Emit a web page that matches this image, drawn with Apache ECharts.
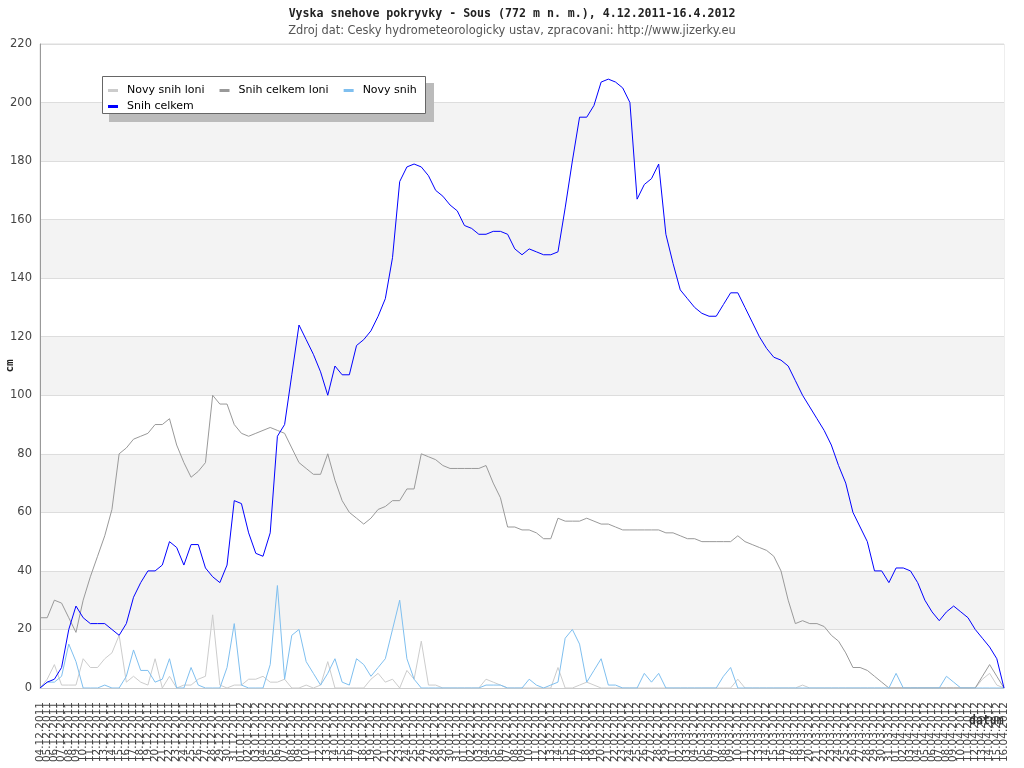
<!DOCTYPE html>
<html>
<head>
<meta charset="utf-8">
<script src="https://cdn.jsdelivr.net/npm/echarts@6/dist/echarts.min.js"></script>
<style>html,body{margin:0;padding:0;background:#fff;}#c{width:1024px;height:768px;}</style>
</head>
<body>
<div id="c"></div>
<script>
var categories = [
"04.12.2011","05.12.2011","06.12.2011","07.12.2011","08.12.2011","09.12.2011","10.12.2011","11.12.2011","12.12.2011","13.12.2011",
"14.12.2011","15.12.2011","16.12.2011","17.12.2011","18.12.2011","19.12.2011","20.12.2011","21.12.2011","22.12.2011","23.12.2011",
"24.12.2011","25.12.2011","26.12.2011","27.12.2011","28.12.2011","29.12.2011","30.12.2011","31.12.2011",
"01.01.2012","02.01.2012","03.01.2012","04.01.2012","05.01.2012","06.01.2012","07.01.2012","08.01.2012","09.01.2012","10.01.2012",
"11.01.2012","12.01.2012","13.01.2012","14.01.2012","15.01.2012","16.01.2012","17.01.2012","18.01.2012","19.01.2012","20.01.2012",
"21.01.2012","22.01.2012","23.01.2012","24.01.2012","25.01.2012","26.01.2012","27.01.2012","28.01.2012","29.01.2012","30.01.2012","31.01.2012",
"01.02.2012","02.02.2012","03.02.2012","04.02.2012","05.02.2012","06.02.2012","07.02.2012","08.02.2012","09.02.2012","10.02.2012",
"11.02.2012","12.02.2012","13.02.2012","14.02.2012","15.02.2012","16.02.2012","17.02.2012","18.02.2012","19.02.2012","20.02.2012",
"21.02.2012","22.02.2012","23.02.2012","24.02.2012","25.02.2012","26.02.2012","27.02.2012","28.02.2012","29.02.2012",
"01.03.2012","02.03.2012","03.03.2012","04.03.2012","05.03.2012","06.03.2012","07.03.2012","08.03.2012","09.03.2012","10.03.2012",
"11.03.2012","12.03.2012","13.03.2012","14.03.2012","15.03.2012","16.03.2012","17.03.2012","18.03.2012","19.03.2012","20.03.2012",
"21.03.2012","22.03.2012","23.03.2012","24.03.2012","25.03.2012","26.03.2012","27.03.2012","28.03.2012","29.03.2012","30.03.2012","31.03.2012",
"01.04.2012","02.04.2012","03.04.2012","04.04.2012","05.04.2012","06.04.2012","07.04.2012","08.04.2012","09.04.2012","10.04.2012",
"11.04.2012","12.04.2012","13.04.2012","14.04.2012","15.04.2012","16.04.2012"
];

var novySnihLoni = [
0,3,8,1,1,1,10,7,7,10,
12,18,2,4,2,1,10,0,4,0,
1,1,3,4,25,1,0,1,1,3,
3,4,2,2,3,0,0,1,0,1,
9,0,0,0,0,0,3,5,2,3,
0,6,3,16,1,1,0,0,0,0,
0,0,3,2,1,0,0,0,0,0,
0,0,7,0,0,1,2,1,0,0,
0,0,0,0,0,0,0,0,0,0,
0,0,0,0,0,0,0,3,0,0,
0,0,0,0,0,0,1,0,0,0,
0,0,0,0,0,0,0,0,0,0,
0,0,0,0,0,0,0,0,0,0,
0,3,5,1,0
];

var snihCelkemLoni = [
24,24,30,29,24,19,30,38,45,52,
61,80,82,85,86,87,90,90,92,83,
77,72,74,77,100,97,97,90,87,86,
87,88,89,88,87,82,77,75,73,73,
80,71,64,60,58,56,58,61,62,64,
64,68,68,80,79,78,76,75,75,75,
75,75,76,70,65,55,55,54,54,53,
51,51,58,57,57,57,58,57,56,56,
55,54,54,54,54,54,54,53,53,52,
51,51,50,50,50,50,50,52,50,49,
48,47,45,40,30,22,23,22,22,21,
18,16,12,7,7,6,4,2,0,0,
0,0,0,0,0,0,0,0,0,0,
0,4,8,4,0
];

var novySnih = [
0,2,2,4,15,9,0,0,0,1,
0,0,4,13,6,6,2,3,10,0,
0,7,1,0,0,0,7,22,1,0,
0,0,8,35,3,18,20,9,5,1,
5,10,2,1,10,8,4,7,10,20,
30,10,3,0,0,0,0,0,0,0,
0,0,1,1,1,0,0,0,3,1,
0,1,2,17,20,15,2,6,10,1,
1,0,0,0,5,2,5,0,0,0,
0,0,0,0,0,4,7,0,0,0,
0,0,0,0,0,0,0,0,0,0,
0,0,0,0,0,0,0,0,0,5,
0,0,0,0,0,0,4,2,0,0,
0,0,0,0,0
];

var snihCelkem = [
0,2,3,7,20,28,24,22,22,22,
20,18,22,31,36,40,40,42,50,48,
42,49,49,41,38,36,42,64,63,53,
46,45,53,86,90,107,124,119,114,108,
100,110,107,107,117,119,122,127,133,147,
173,178,179,178,175,170,168,165,163,158,
157,155,155,156,156,155,150,148,150,149,
148,148,149,164,180,195,195,199,207,208,
207,205,200,167,172,174,179,155,145,136,
133,130,128,127,127,131,135,135,130,125,
120,116,113,112,110,105,100,96,92,88,
83,76,70,60,55,50,40,40,36,41,
41,40,36,30,26,23,26,28,26,24,
20,17,14,10,0
];

var seriesNames = ["Novy snih loni", "Snih celkem loni", "Novy snih", "Snih celkem"];
var seriesColors = ["#cccccc", "#999999", "#7fbfef", "#0000ff"];
var yTicks = { min: 0, max: 220, step: 20 };

var chart = echarts.init(document.getElementById('c'), null, { renderer: 'canvas' });
var seriesData = [novySnihLoni, snihCelkemLoni, novySnih, snihCelkem];
var series = seriesNames.map(function (n, i) {
  return {
    name: n, type: 'line', data: seriesData[i], showSymbol: false, symbol: 'none',
    lineStyle: { color: seriesColors[i], width: 1 },
    itemStyle: { color: seriesColors[i] },
    emphasis: { disabled: true }, animation: false, z: 2 + i
  };
});

var mono = "'DejaVu Sans Mono', monospace";
var sans = "'DejaVu Sans', sans-serif";

chart.setOption({
  animation: false,
  color: seriesColors,
  title: {
    text: 'Vyska snehove pokryvky - Sous (772 m n. m.), 4.12.2011-16.4.2012',
    subtext: 'Zdroj dat: Cesky hydrometeorologicky ustav, zpracovani: http://www.jizerky.eu',
    left: 'center', top: 8, itemGap: 6, padding: 0,
    textStyle: { fontFamily: mono, fontWeight: 'bold', fontSize: 11.6, color: '#222' },
    subtextStyle: { fontFamily: sans, fontSize: 11.4, color: '#555' }
  },
  grid: { left: 40, right: 20, top: 44, bottom: 80, containLabel: false, outerBoundsMode: 'none', show: true, borderColor: '#dddddd', borderWidth: 1, backgroundColor: 'transparent' },
  legend: [
    {
      data: seriesNames.slice(0, 3), left: 108, top: 85, padding: 0, itemGap: 15,
      icon: 'rect', itemWidth: 10, itemHeight: 3, z: 6,
      textStyle: { fontFamily: sans, fontSize: 11, color: '#000', padding: [0, 0, 0, 4] },
      selectedMode: false
    },
    {
      data: seriesNames.slice(3), left: 108, top: 101, padding: 0, itemGap: 15,
      icon: 'rect', itemWidth: 10, itemHeight: 3, z: 6,
      textStyle: { fontFamily: sans, fontSize: 11, color: '#000', padding: [0, 0, 0, 4] },
      selectedMode: false
    }
  ],
  graphic: [
    { type: 'rect', z: 5, shape: { x: 109, y: 83, width: 325, height: 39 }, style: { fill: '#bbbbbb' } },
    { type: 'rect', z: 5, shape: { x: 102.5, y: 76.5, width: 323, height: 37 }, style: { fill: '#ffffff', stroke: '#666666', lineWidth: 1 } },
    { type: 'text', z: 10, left: 969, top: 715, style: { text: 'datum', font: "bold 11.5px 'DejaVu Sans Mono', monospace", fill: '#333' } }
  ],
  xAxis: {
    type: 'category', data: categories, boundaryGap: false,
    axisLine: { lineStyle: { color: '#cccccc' } },
    axisTick: { show: false },
    axisLabel: { interval: 0, rotate: 90, fontFamily: sans, fontSize: 10.5, color: '#444', margin: 14 },
    splitLine: { show: false }
  },
  yAxis: {
    type: 'value', min: yTicks.min, max: yTicks.max, interval: yTicks.step,
    name: 'cm', nameLocation: 'middle', nameGap: 24, nameMoveOverlap: false,
    nameTextStyle: { fontFamily: mono, fontWeight: 'bold', fontSize: 11, color: '#222' },
    axisLine: { show: true, lineStyle: { color: '#999999' } },
    axisTick: { show: false },
    axisLabel: { fontFamily: sans, fontSize: 11.5, color: '#444', margin: 8 },
    splitLine: { lineStyle: { color: '#dddddd' } },
    splitArea: { show: true, areaStyle: { color: ['#ffffff', '#f3f3f3'] } }
  },
  series: series
});
</script>
</body>
</html>
